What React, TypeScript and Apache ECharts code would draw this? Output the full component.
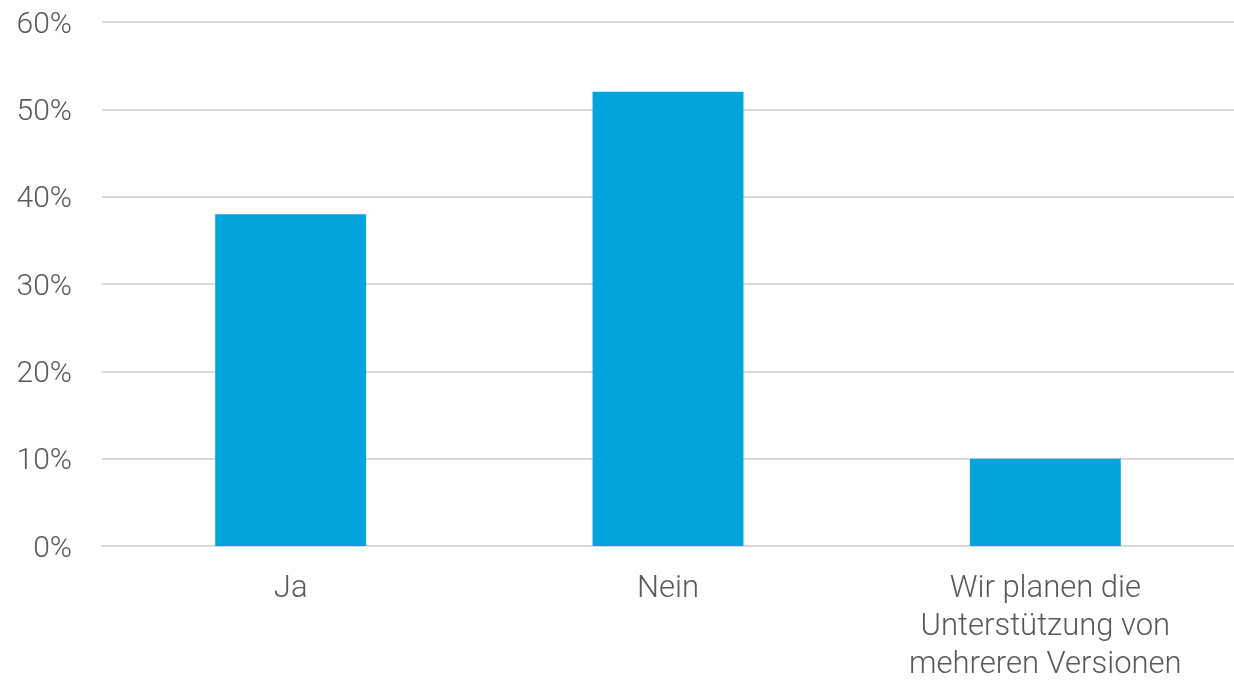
import React, { useEffect, useRef } from "react";
import * as echarts from "echarts";

const categories = ["Ja", "Nein", "Wir planen die\nUnterstützung von\nmehreren Versionen"];
const values = [38, 52, 10];
const yTicks = [0, 10, 20, 30, 40, 50, 60];

export default function App() {
  const ref = useRef<HTMLDivElement>(null);
  useEffect(() => {
    if (!ref.current) return;
    const chart = echarts.init(ref.current, undefined, { renderer: "svg" });
    const textColor = "#595959";
    const font = "Roboto";
    chart.setOption({
      animation: false,
      grid: { left: 102, right: -14, top: 22, bottom: 132, containLabel: false },
      xAxis: {
        type: "category",
        data: categories,
        axisLine: { show: true, lineStyle: { color: "#d9d9d9", width: 2 } },
        axisTick: { show: false },
        axisLabel: {
          color: textColor,
          fontFamily: font,
          fontSize: 31,
          fontWeight: 300,
          lineHeight: 38,
          margin: 21,
          interval: 0,
        },
      },
      yAxis: {
        type: "value",
        min: yTicks[0],
        max: yTicks[yTicks.length - 1],
        interval: 10,
        axisLine: { show: false },
        axisTick: { show: false },
        splitLine: { lineStyle: { color: "#d9d9d9", width: 2 } },
        axisLabel: {
          color: textColor,
          fontFamily: font,
          fontSize: 30,
          fontWeight: 300,
          margin: 30,
          formatter: (v: number) => `${v}%`,
        },
      },
      series: [
        {
          type: "bar",
          data: values,
          barWidth: "40%",
          itemStyle: { color: "#03A4DB" },
        },
      ],
    });
    return () => chart.dispose();
  }, []);
  return (
    <div
      ref={ref}
      style={{ position: "fixed", left: 0, top: 0, width: 1234, height: 681 }}
    />
  );
}
